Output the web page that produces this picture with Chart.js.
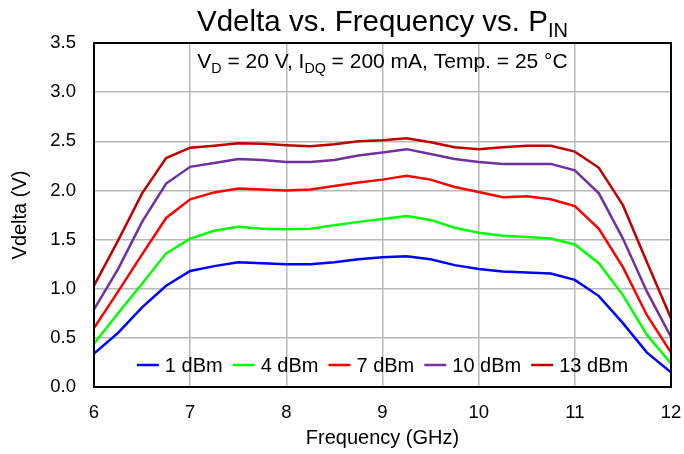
<!DOCTYPE html>
<html>
<head>
<meta charset="utf-8">
<script src="https://cdn.jsdelivr.net/npm/chart.js@4/dist/chart.umd.min.js"></script>
<style>
  html, body { margin: 0; padding: 0; background: #fff; }
  #wrap { width: 684px; height: 454px; }
</style>
</head>
<body>
<div id="wrap"><canvas id="vdeltaChart"></canvas></div>
<script>
// frequency points (GHz)
const freqs = [6, 6.25, 6.5, 6.75, 7, 7.25, 7.5, 7.75, 8, 8.25, 8.5, 8.75, 9,
               9.25, 9.5, 9.75, 10, 10.25, 10.5, 10.75, 11, 11.25, 11.5, 11.75, 12];

// Vdelta (V) per input power
const p1dBm  = [0.34, 0.55, 0.81, 1.03, 1.18, 1.23, 1.27, 1.26, 1.25, 1.25, 1.27, 1.30, 1.32,
                1.33, 1.30, 1.24, 1.20, 1.175, 1.165, 1.155, 1.09, 0.925, 0.65, 0.35, 0.15];
const p4dBm  = [0.44, 0.75, 1.05, 1.36, 1.51, 1.59, 1.63, 1.61, 1.605, 1.61, 1.645, 1.68, 1.71,
                1.74, 1.70, 1.62, 1.57, 1.54, 1.527, 1.51, 1.45, 1.26, 0.935, 0.53, 0.24];
const p7dBm  = [0.60, 0.97, 1.35, 1.72, 1.91, 1.98, 2.02, 2.01, 2.00, 2.01, 2.045, 2.08, 2.11,
                2.15, 2.11, 2.035, 1.985, 1.93, 1.94, 1.91, 1.84, 1.61, 1.22, 0.73, 0.35];
const p10dBm = [0.79, 1.20, 1.68, 2.07, 2.24, 2.28, 2.32, 2.31, 2.29, 2.29, 2.31, 2.355, 2.385,
                2.42, 2.37, 2.32, 2.29, 2.27, 2.27, 2.27, 2.205, 1.97, 1.51, 0.97, 0.51];
const p13dBm = [1.03, 1.49, 1.97, 2.33, 2.435, 2.455, 2.48, 2.475, 2.46, 2.45, 2.47, 2.50, 2.51,
                2.53, 2.49, 2.44, 2.42, 2.44, 2.455, 2.455, 2.395, 2.23, 1.85, 1.27, 0.70];

const seriesLabels = ['1 dBm', '4 dBm', '7 dBm', '10 dBm', '13 dBm'];
const seriesColors = ['#0000ff', '#00ff00', '#ff0000', '#7030a0', '#c00000'];
const seriesValues = [p1dBm, p4dBm, p7dBm, p10dBm, p13dBm];

const FONT = "'Liberation Sans', Arial, sans-serif";

// draw a run of text pieces, some as subscripts; returns total width
function drawRich(ctx, parts, x, y, size, measureOnly) {
    let cx = x;
    parts.forEach(p => {
        const s = p.sub ? size * 0.68 : size;
        ctx.font = s + 'px ' + FONT;
        if (!measureOnly) ctx.fillText(p.t, cx, p.sub ? y + size * 0.22 : y);
        cx += ctx.measureText(p.t).width;
    });
    return cx - x;
}

const decorations = {
    id: 'decorations',
    afterDraw(chart) {
        const ctx = chart.ctx;
        const a = chart.chartArea;
        ctx.save();
        // plot frame
        ctx.strokeStyle = '#000';
        ctx.lineWidth = 2;
        ctx.strokeRect(a.left, a.top, a.right - a.left, a.bottom - a.top);

        ctx.fillStyle = '#000';
        ctx.textBaseline = 'alphabetic';
        const mid = (a.left + a.right) / 2;

        // main title
        const title = [{ t: 'Vdelta vs. Frequency vs. P' }, { t: 'IN', sub: true }];
        let w = drawRich(ctx, title, 0, 0, 29.5, true);
        drawRich(ctx, title, mid - w / 2, 31, 29.5, false);

        // conditions line inside the plot
        const cond = [{ t: 'V' }, { t: 'D', sub: true }, { t: ' = 20 V, I' }, { t: 'DQ', sub: true },
                      { t: ' = 200 mA, Temp. = 25 °C' }];
        w = drawRich(ctx, cond, 0, 0, 21, true);
        drawRich(ctx, cond, mid - w / 2, 68, 21, false);

        // legend along the bottom of the plot
        ctx.font = '20px ' + FONT;
        const lineLen = 22, gapText = 6, gapItem = 10;
        let total = 0;
        seriesLabels.forEach((l, i) => {
            total += lineLen + gapText + ctx.measureText(l).width;
            if (i < seriesLabels.length - 1) total += gapItem;
        });
        let lx = mid - total / 2;
        const ly = 365;
        seriesLabels.forEach((l, i) => {
            ctx.strokeStyle = seriesColors[i];
            ctx.lineWidth = 2.5;
            ctx.beginPath();
            ctx.moveTo(lx, ly);
            ctx.lineTo(lx + lineLen, ly);
            ctx.stroke();
            lx += lineLen + gapText;
            ctx.fillStyle = '#000';
            ctx.textBaseline = 'middle';
            ctx.fillText(l, lx, ly + 1);
            lx += ctx.measureText(l).width + gapItem;
        });
        ctx.restore();
    }
};

new Chart(document.getElementById('vdeltaChart'), {
    type: 'line',
    data: {
        datasets: seriesValues.map((vals, i) => ({
            label: seriesLabels[i],
            data: freqs.map((f, j) => ({ x: f, y: vals[j] })),
            borderColor: seriesColors[i],
            backgroundColor: seriesColors[i],
            borderWidth: 2.5,
            pointRadius: 0,
            tension: 0,
            fill: false
        }))
    },
    options: {
        responsive: true,
        maintainAspectRatio: false,
        animation: false,
        layout: { padding: { top: 43, right: 13, left: 0, bottom: 0 } },
        plugins: {
            legend: { display: false },
            title: { display: false },
            tooltip: { enabled: false }
        },
        scales: {
            x: {
                type: 'linear',
                min: 6,
                max: 12,
                ticks: { stepSize: 1, color: '#000', padding: 15, font: { family: FONT, size: 18.5 } },
                grid: { color: '#b8b8b8', lineWidth: 1.5, drawTicks: false },
                border: { display: false },
                title: { display: true, text: 'Frequency (GHz)', color: '#000', padding: { top: 0 },
                         font: { family: FONT, size: 20 } },
                afterFit(scale) {
                    scale.height = 67;
                    scale.paddingLeft = 0;
                    scale.paddingRight = 0;
                }
            },
            y: {
                min: 0,
                max: 3.5,
                ticks: { stepSize: 0.5, color: '#000', padding: 18, font: { family: FONT, size: 18.5 },
                         callback: v => v.toFixed(1) },
                grid: { color: '#b8b8b8', lineWidth: 1.5, drawTicks: false },
                border: { display: false },
                title: { display: true, text: 'Vdelta (V)', color: '#000', padding: { top: 8, bottom: 0 },
                         font: { family: FONT, size: 20 } },
                afterFit(scale) {
                    scale.width = 94;
                    scale.paddingTop = 0;
                    scale.paddingBottom = 0;
                }
            }
        }
    },
    plugins: [decorations]
});
</script>
</body>
</html>
